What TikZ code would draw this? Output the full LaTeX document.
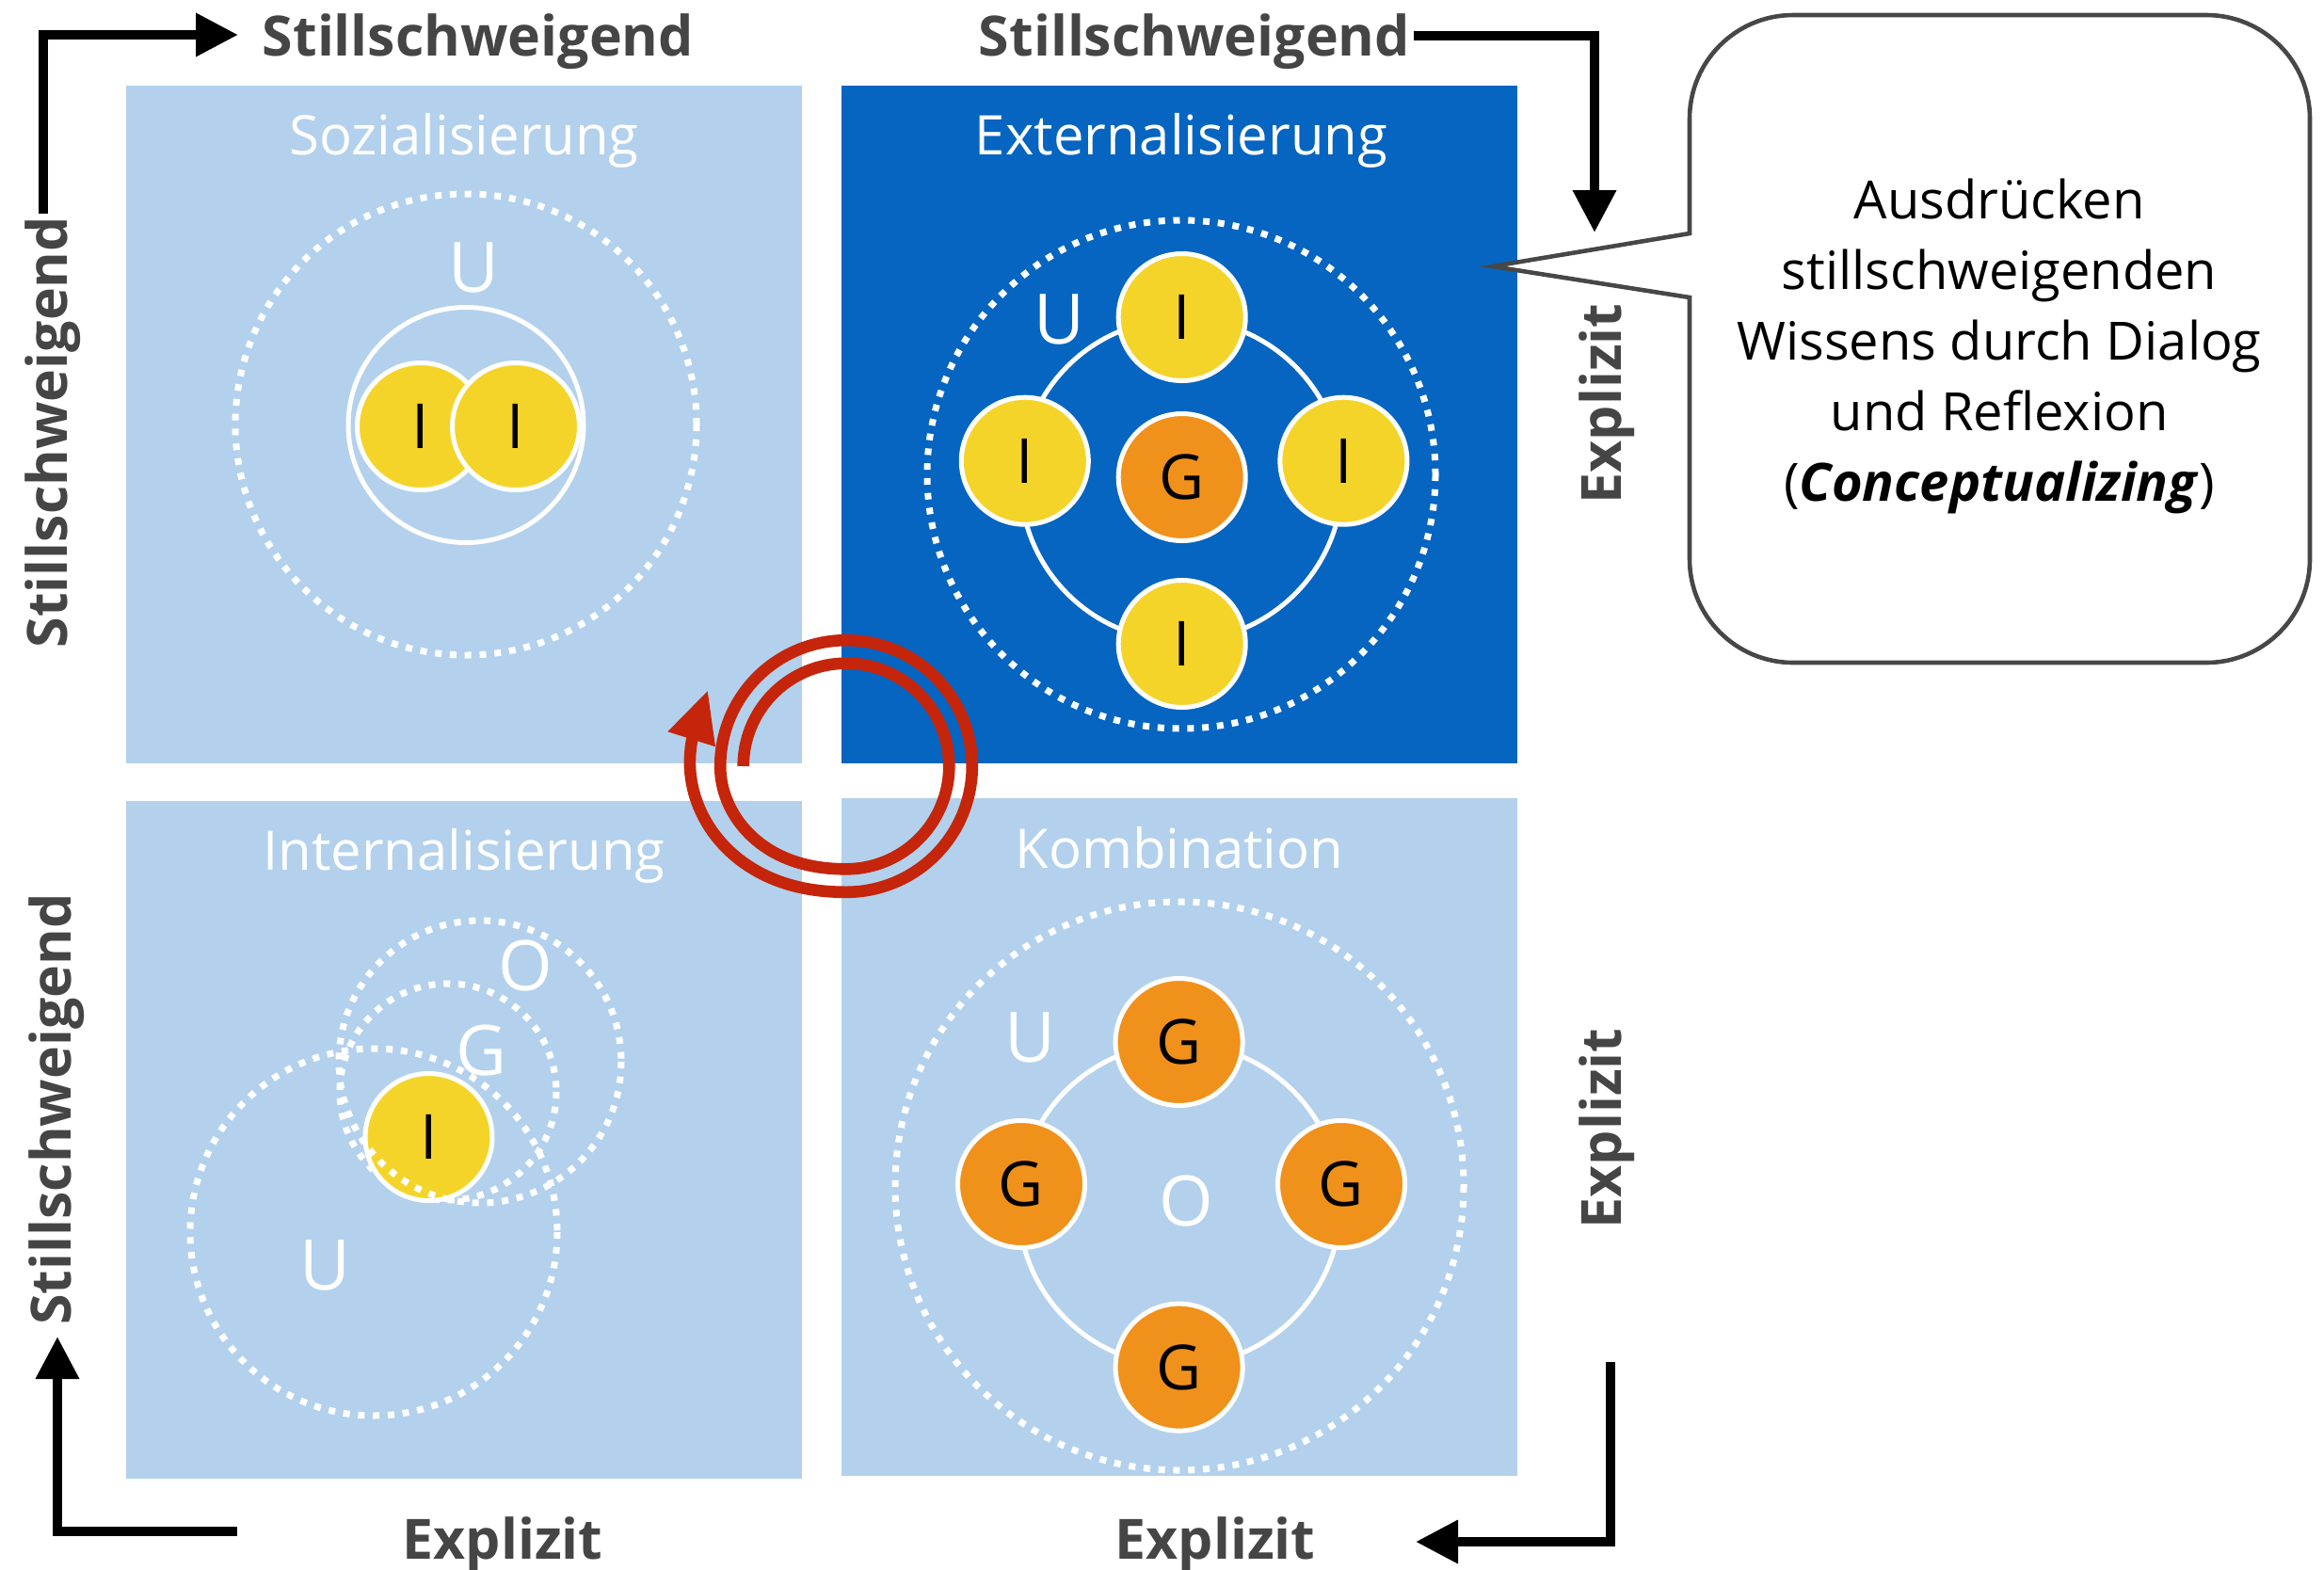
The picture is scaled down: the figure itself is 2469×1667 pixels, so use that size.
\documentclass[tikz,border=0pt]{standalone}
\usepackage{fontspec}
\setmainfont{Open Sans}
\usetikzlibrary{arrows.meta}

\definecolor{quadlight}{HTML}{B3D1EC}
\definecolor{quaddark}{HTML}{0565C0}
\definecolor{iyellow}{HTML}{F5D42A}
\definecolor{gorange}{HTML}{F0911B}
\definecolor{axisgray}{HTML}{454545}
\definecolor{spiralred}{HTML}{C5250A}
\definecolor{calloutgray}{HTML}{474747}

\begin{document}
\begin{tikzpicture}[x=0.5pt, y=-0.5pt,
  quad/.style={fill=#1, draw=none, minimum width=359pt, minimum height=360pt, inner sep=0pt},
  title/.style={text=white, font=\fontsize{29pt}{35pt}\selectfont, anchor=base, inner sep=0pt},
  axislabel/.style={text=axisgray, font=\bfseries\fontsize{29.5pt}{35pt}\selectfont, inner sep=0pt},
  axisarrow/.style={draw=black, line width=5pt, -{Triangle[length=22.5pt, width=22pt]}},
  dotring/.style={draw=white, line width=3.5pt, dash pattern=on 3.5pt off 4.4pt},
  solidring/.style={draw=white, line width=2.5pt},
  person/.style={circle, draw=white, line width=2.5pt, fill=iyellow, minimum size=67.5pt,
    inner sep=0pt, text=black, font=\fontsize{33pt}{40pt}\selectfont},
  group/.style={person, fill=gorange},
  tag/.style={text=white, anchor=base, inner sep=0pt, font=\fontsize{37pt}{44pt}\selectfont},
  declare function={
    sm(\u)=3*(min(max(\u,0),1))^2-2*(min(max(\u,0),1))^3;
    rr(\t)=109.3+24.5*sm((\t-270)/90)+32.5*sm((\t-630)/95);
  }
]
\useasboundingbox (0,0) rectangle (2469,1667);
\fill[white] (0,0) rectangle (2469,1667);

% the four quadrants
\node[quad=quadlight] (soz) at (493,451) {};
\node[quad=quaddark]  (ext) at (1253,451) {};
\node[quad=quadlight] (int) at (493,1211) {};
\node[quad=quadlight] (kom) at (1253,1208) {};

\node[title] (tsoz) at (493,164) {Sozialisierung};
\node[title] (text) at (1255,164) {Externalisierung};
\node[title] (tint) at (493,924) {Internalisierung};
\node[title] (tkom) at (1253,922) {Kombination};

% Sozialisierung: two individuals
\draw[dotring] (495,451) circle[radius=245];
\draw[solidring] (495,451.5) circle[radius=125];
\node[tag] (sozU) at (503,310) {U};
\node[person] (sozI1) at (447,453) {I};
\node[person] (sozI2) at (548,453) {I};

% Externalisierung: individuals around a group
\draw[dotring] (1255,504) circle[radius=270];
\draw[solidring] (1255,510) circle[radius=171];
\node[tag] (extU) at (1125,365) {U};
\node[person] (extIt) at (1255.7,337) {I};
\node[person] (extIl) at (1088.8,489.7) {I};
\node[person] (extIr) at (1427.4,489.7) {I};
\node[person] (extIb) at (1255.7,684) {I};
\node[group]  (extG)  at (1255.7,507) {G};

% Kombination: groups within the organisation
\draw[dotring] (1253,1260) circle[radius=302];
\draw[solidring] (1253,1280) circle[radius=171];
\node[tag] (komU) at (1094,1128) {U};
\node[tag] (komO) at (1260,1302) {O};
\node[group] (komGt) at (1252.6,1107) {G};
\node[group] (komGl) at (1085,1258) {G};
\node[group] (komGr) at (1425,1258) {G};
\node[group] (komGb) at (1252.6,1452.6) {G};

% Internalisierung: nested contexts
\draw[dotring] (397,1309) circle[radius=195];
\draw[dotring] (476,1160) circle[radius=115];
\node[person] (intI) at (455.5,1208) {I};
\draw[dotring] (510,1128) circle[radius=150];
\node[tag] (intO) at (558.5,1052.6) {O};
\node[tag] (intG) at (511,1142.5) {G};
\node[tag] (intU) at (345.5,1370.6) {U};

% spiral in the centre
\draw[spiralred, line width=6.3pt, line cap=butt]
  plot[domain=0:730.2, samples=400, variable=\t]
  ({899+rr(\t)*cos(180+\t)}, {814+rr(\t)*sin(180+\t)});
\fill[spiralred] (709.3,777.3) -- (751.7,734.3) -- (760,793.3) -- cycle;

% axis labels
\node[axislabel] (axT1) at (508,44) {Stillschweigend};
\node[axislabel] (axT2) at (1269,44) {Stillschweigend};
\node[axislabel, rotate=90] (axL1) at (56,459) {Stillschweigend};
\node[axislabel, rotate=90] (axL2) at (60.6,1178.6) {Stillschweigend};
\node[axislabel, rotate=90] (axR1) at (1707,429) {Explizit};
\node[axislabel, rotate=90] (axR2) at (1707,1199) {Explizit};
\node[axislabel, anchor=base] (axB1) at (534,1656) {Explizit};
\node[axislabel, anchor=base] (axB2) at (1291,1656) {Explizit};

% direction arrows
\coordinate (arTLs) at (46,227);
\coordinate (arTLe) at (253,37);
\coordinate (arTRs) at (1502,38);
\coordinate (arTRe) at (1694,247);
\coordinate (arBRs) at (1711,1447);
\coordinate (arBRe) at (1504,1638);
\coordinate (arBLs) at (252,1627);
\coordinate (arBLe) at (61,1420);
\draw[axisarrow] (arTLs) |- (arTLe);
\draw[axisarrow] (arTRs) -| (arTRe);
\draw[axisarrow] (arBRs) |- (arBRe);
\draw[axisarrow] (arBLs) -| (arBLe);

% callout
\coordinate (calltip) at (1585.5,283);
\draw[draw=calloutgray, fill=white, line width=2.3pt, line join=miter]
  (1795,248) -- (1795,126) arc[start angle=180, end angle=270, radius=110]
  -- (2344,16) arc[start angle=270, end angle=360, radius=110]
  -- (2454,594) arc[start angle=0, end angle=90, radius=110]
  -- (1905,704) arc[start angle=90, end angle=180, radius=110]
  -- (1795,316) -- (calltip) -- cycle;
\node[align=center, inner sep=0pt, font=\fontsize{28pt}{37.5pt}\selectfont] (calltext) at (2124,368)
  {Ausdrücken\\stillschweigenden\\Wissens durch Dialog\\und Reflexion\\(\textbf{\textit{Conceptualizing}})};
\end{tikzpicture}
\end{document}
